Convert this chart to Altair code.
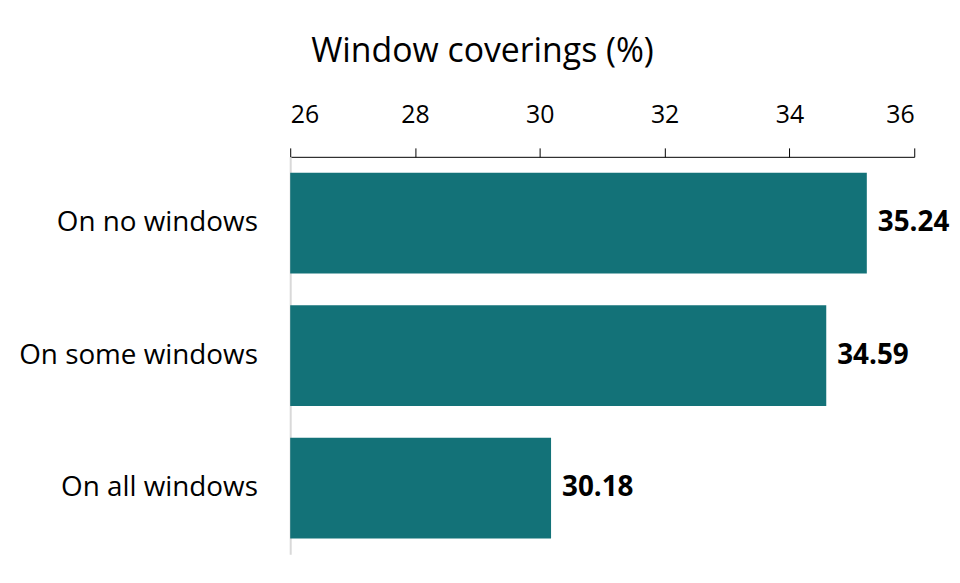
import altair as alt
import pandas as pd

categories = ["On no windows", "On some windows", "On all windows"]
values = [35.24, 34.59, 30.18]
ticks = [26, 28, 30, 32, 34, 36]

df = pd.DataFrame({"category": categories, "value": values,
                   "label": [f"{v:.2f}" for v in values]})

FONT = "Open Sans"

x = alt.X("value:Q", scale=alt.Scale(domain=[26, 36], nice=False, zero=False, clamp=True),
          axis=alt.Axis(orient="top", values=ticks, format="d", title="Window coverings (%)",
                        grid=False, domainColor="#000000", domainWidth=1,
                        tickColor="#000000", tickSize=9, labelFontSize=25,
                        labelFont=FONT, labelColor="#000000", labelPadding=21,
                        titleFont=FONT, titleFontSize=34, titleFontWeight="normal",
                        titleColor="#000000", titlePadding=34,
                        titleX=193, titleAlign="center", titleAnchor="start"))
y = alt.Y("category:N", sort=categories,
          scale=alt.Scale(paddingInner=0.24, paddingOuter=0.12),
          axis=alt.Axis(title=None, ticks=False, domainColor="#d9d9d9", domainWidth=2,
                        labelFontSize=28, labelFont=FONT, labelColor="#000000",
                        labelPadding=33, labelLimit=400))

bars = alt.Chart(df).mark_bar(color="#137278").encode(x=x, x2=alt.datum(26), y=y)
text = alt.Chart(df).mark_text(align="left", dx=11, fontSize=28, fontWeight="bold",
                               font=FONT, color="#000000").encode(
    x=alt.X("value:Q"), y=alt.Y("category:N", sort=categories), text="label:N")

chart = (bars + text).properties(
    width=628, height=400,
    autosize=alt.AutoSizeParams(type="none"),
    padding={"left": 284, "top": 148, "right": 38, "bottom": 10},
).configure(background="#ffffff").configure_view(stroke=None)

chart.save("out.html", embed_options={"renderer": "svg", "actions": False})
